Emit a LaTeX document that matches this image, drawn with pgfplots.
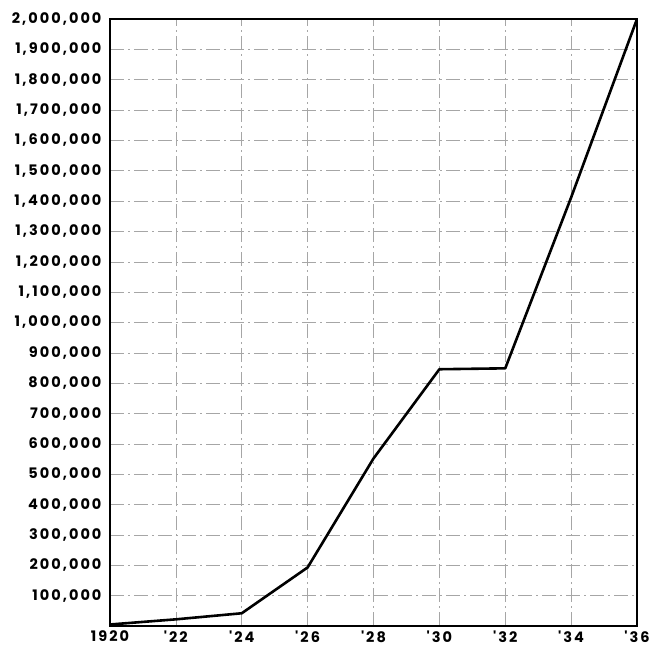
\documentclass[border=0pt]{standalone}
\usepackage{pgfplots}
\pgfplotsset{compat=1.18}
\usepackage{fontspec}
\newfontfamily\tickfont[LetterSpace=14]{Poppins Bold}

\begin{document}
\begin{tikzpicture}
\path[use as bounding box] (-110pt,-23pt) rectangle (543pt,626pt);
\begin{axis}[
  at={(0,0)}, anchor=south west,
  scale only axis, width=527pt, height=607pt,
  xmin=1920, xmax=1936, ymin=0, ymax=2000000,
  xtick={1920,1922,...,1936},
  xticklabels={1920,{'22},{'24},{'26},{'28},{'30},{'32},{'34},{'36}},
  ytick={100000,200000,...,2000000},
  scaled y ticks=false,
  /pgf/number format/fixed,
  /pgf/number format/1000 sep={,},
  /pgf/number format/assume math mode=true,
  tick label style={font=\tickfont\fontsize{14.5}{15}\selectfont, black},
  major tick length=0pt,
  yticklabel style={xshift=-5pt},
  xticklabel style={yshift=-1pt},
  grid=major,
  major grid style={gray!70, line width=0.6pt, dash pattern=on 14pt off 4pt on 2pt off 4pt},
  axis line style={black, line width=1.5pt},
]
\addplot[black, line width=2.6pt, line join=round] coordinates {
  (1920,5000) (1922,22000) (1924,42000) (1926,193000) (1928,552000)
  (1930,846000) (1932,849000) (1934,1412000) (1936,2000000)
};
\end{axis}
\end{tikzpicture}
\end{document}
